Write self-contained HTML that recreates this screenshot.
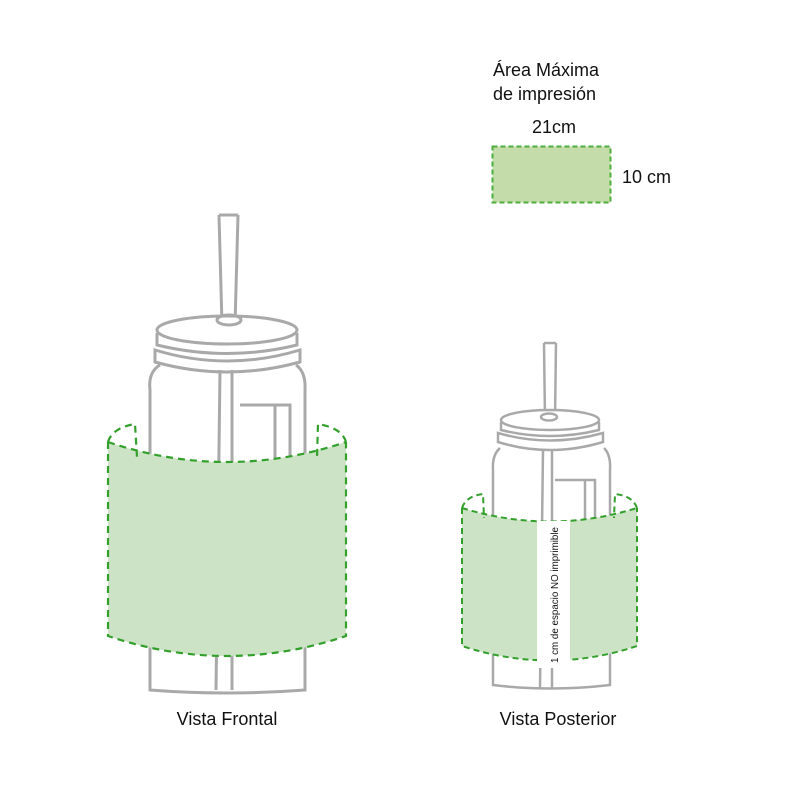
<!DOCTYPE html>
<html><head><meta charset="utf-8"><style>
html,body{margin:0;padding:0;background:#fff;}
svg{display:block;}
text{font-family:"Liberation Sans",sans-serif;fill:#111;}
</style></head><body>
<svg width="800" height="800" viewBox="0 0 800 800" xmlns="http://www.w3.org/2000/svg">
<text x="493" y="76" font-size="18">Área Máxima</text>
<text x="493" y="100" font-size="18">de impresión</text>
<text x="532" y="133" font-size="18">21cm</text>
<rect x="492.5" y="146.5" width="118" height="56" fill="#c3dcaa" stroke="#4cae3c" stroke-width="2" stroke-dasharray="5,3"/>
<text x="622" y="183" font-size="18">10 cm</text>

<g fill="none" stroke="#a9a9a9" stroke-width="3">
  <path d="M219 215 L222 325 M238 215 L235 325" />
  <path d="M219 215 L238 215"/>
  <ellipse cx="227" cy="330" rx="70" ry="14" fill="#fff"/>
  <ellipse cx="229" cy="320" rx="12" ry="5"/>
  <path d="M157 333 L157 345 Q227 362 297 345 L297 333"/>
  <path d="M155 350 Q227 372 300 350 L300 362 Q227 382 155 362 Z"/>
  <path d="M160 365 Q148 372 150 390 L150 690 Q227 696 305 690 L305 390 Q306 372 296 365"/>
  <path d="M220 370 L216 690 M232 370 L232 690"/>
  <path d="M240 405 L290 405 L290 460 M275 405 L275 460"/>
</g>
<path d="M108 442 Q227 482 346 442 L346 636 Q227 676 108 636 Z" fill="#cce3c6" stroke="none"/>
<g fill="none" stroke="#33a02c" stroke-width="2.2" stroke-dasharray="7,5">
  <path d="M108 442 Q227 482 346 442"/>
  <path d="M108 442 L108 636 Q227 676 346 636 L346 442"/>
  <path d="M108 442 Q112 428 135 424 L137 457"/>
  <path d="M346 442 Q342 428 318 424 L317 457"/>
</g>
<text x="227" y="725" font-size="18" text-anchor="middle">Vista Frontal</text>

<g fill="none" stroke="#a9a9a9" stroke-width="2.5">
  <path d="M544 343 L545 420 M556 343 L555 420 M544 343 L556 343"/>
  <ellipse cx="550" cy="420" rx="49" ry="10" fill="#fff"/>
  <ellipse cx="549" cy="417" rx="8" ry="3.5"/>
  <path d="M501 422 L501 430 Q550 442 599 430 L599 422"/>
  <path d="M498 433 Q550 448 603 433 L603 442 Q550 458 498 442 Z"/>
  <path d="M500 448 Q492 455 493 470 L493 685 Q550 692 610 685 L610 470 Q611 455 604 448"/>
  <path d="M543 450 L540 688 M552 450 L552 688"/>
  <path d="M555 480 L595 480 L595 520 M585 480 L585 520"/>
</g>
<path d="M462 508 Q550 535 637 508 L637 646 Q550 675 462 646 Z" fill="#cce3c6"/>
<g fill="none" stroke="#33a02c" stroke-width="2" stroke-dasharray="6,4">
  <path d="M462 508 Q550 535 637 508"/>
  <path d="M462 508 L462 646 Q550 675 637 646 L637 508"/>
  <path d="M462 508 Q466 496 483 494 L484 518"/>
  <path d="M637 508 Q633 496 615 494 L614 518"/>
</g>
<rect x="537" y="521" width="33" height="147" fill="#fff"/>
<text transform="translate(558,663) rotate(-90)" font-size="10" textLength="136" lengthAdjust="spacingAndGlyphs">1 cm de espacio NO imprimible</text>
<text x="558" y="725" font-size="18" text-anchor="middle">Vista Posterior</text>
</svg>
</body></html>
